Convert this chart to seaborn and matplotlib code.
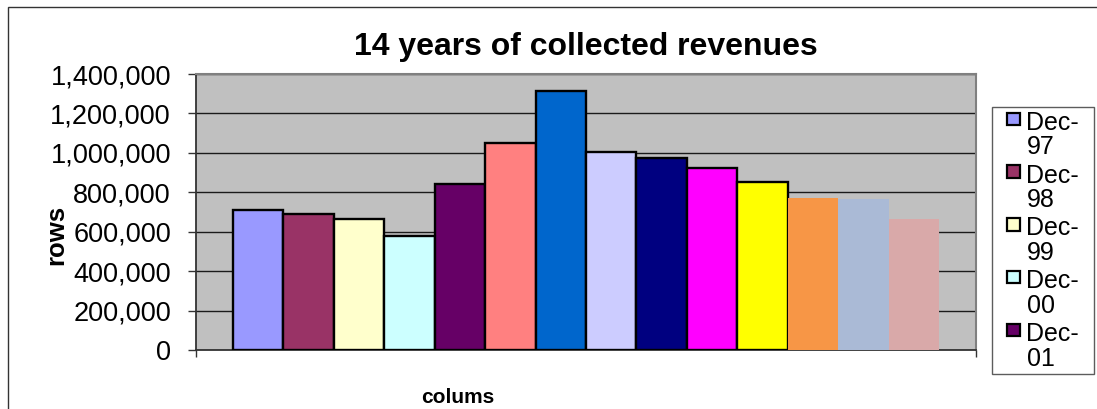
import matplotlib
matplotlib.use("Agg")
import matplotlib.pyplot as plt
import seaborn as sns
import pandas as pd
from matplotlib.ticker import FuncFormatter
from matplotlib.patches import Rectangle, Patch
from matplotlib.legend_handler import HandlerPatch

months = ["Dec-97", "Dec-98", "Dec-99", "Dec-00", "Dec-01", "Dec-02", "Dec-03",
          "Dec-04", "Dec-05", "Dec-06", "Dec-07", "Dec-08", "Dec-09", "Dec-10"]
revenues = [710000, 690000, 665000, 577000, 840000, 1050000, 1315000,
            1004000, 972000, 923000, 850000, 771000, 766000, 665000]
colors = ["#9999FF", "#993366", "#FFFFCC", "#CCFFFF", "#660066", "#FF8080", "#0066CC",
          "#CCCCFF", "#000080", "#FF00FF", "#FFFF00", "#F79646", "#AABAD6", "#D9A9A9"]
outlined = [True] * 11 + [False] * 3
legend_shown = 5

title = "14 years of collected revenues"
ylabel = "rows"
xlabel = "colums"
yticks = [0, 200000, 400000, 600000, 800000, 1000000, 1200000, 1400000]

sns.set_theme(style="white")
plt.rcParams["font.family"] = ["Liberation Sans", "DejaVu Sans"]
plt.rcParams["text.color"] = "black"
plt.rcParams["axes.labelcolor"] = "black"
plt.rcParams["ytick.color"] = "black"
plt.rcParams["xtick.color"] = "black"

W, H = 1097, 409
fig = plt.figure(figsize=(W / 100, H / 100), dpi=100)
fig.patch.set_facecolor("white")
ax = fig.add_axes([196 / W, 1 - 350 / H, (976 - 196) / W, (350 - 74) / H])
ax.set_facecolor("#C0C0C0")

df = pd.DataFrame({"month": months, "revenue": revenues})
sns.barplot(data=df, x="month", y="revenue", hue="month", palette=colors,
            order=months, hue_order=months, width=1.0, legend=False,
            saturation=1, edgecolor="black", linewidth=1.7, ax=ax, zorder=3)

bars = sorted(ax.patches, key=lambda p: p.get_x())
for b, o in zip(bars, outlined):
    if not o:
        b.set_edgecolor("none")
        b.set_linewidth(0)

ax.set_ylim(0, 1400000)
ax.set_yticks(yticks)
ax.yaxis.set_major_formatter(FuncFormatter(lambda v, p: f"{int(v):,}"))
ax.set_xlim(-0.5 - 0.73, len(months) - 0.5 + 0.73)
ax.set_xticks([-0.5 - 0.73, len(months) - 0.5 + 0.73])
ax.set_xticklabels(["", ""])
ax.set_xlabel("")
ax.set_ylabel("")
ax.yaxis.grid(True, color="#1a1a1a", linewidth=1.0, zorder=1)
ax.set_axisbelow(True)
ax.tick_params(axis="y", direction="out", length=6, width=1, color="#333333",
               pad=12, labelsize=19.5, left=True, labelcolor="black")
ax.tick_params(axis="x", direction="out", length=5, width=1, color="#333333", bottom=True)
for s in ["top", "right"]:
    ax.spines[s].set_color("#808080")
    ax.spines[s].set_linewidth(1.5)
for s in ["left", "bottom"]:
    ax.spines[s].set_color("#333333")
    ax.spines[s].set_linewidth(1.3)

fig.text(586 / W, 1 - 55 / H, title, ha="center", va="baseline",
         fontsize=23, fontweight="bold", color="black")
fig.text(56 / W, 1 - 235 / H, ylabel, rotation=90, ha="center", va="center",
         fontsize=18.5, fontweight="bold", color="black")
fig.text(458 / W, 1 - 403 / H, xlabel, ha="center", va="baseline",
         fontsize=15, fontweight="bold", color="black")

# chart area border
fig.patches.append(Rectangle((8 / W, -0.1), 1.2, 1 - 7 / H + 0.1, transform=fig.transFigure,
                             fill=False, edgecolor="#333333", linewidth=1.0))


def make_square(legend, orig_handle, xdescent, ydescent, width, height, fontsize):
    s = 0.5 * fontsize
    return Rectangle((width - s, height + 0.33 * fontsize - s / 2), s, s)


handles = [Patch(facecolor=colors[i], edgecolor="black", linewidth=1.6)
           for i in range(legend_shown)]
labels = [m.replace("-", "-\n") for m in months[:legend_shown]]
leg = fig.legend(handles, labels, loc="upper left",
                 bbox_to_anchor=(992 / W, 1 - 378 / H, 102 / W, 271 / H),
                 bbox_transform=fig.transFigure, mode="expand",
                 fontsize=18, frameon=True, fancybox=False, edgecolor="#333333",
                 handlelength=0.95, handletextpad=0.28, labelspacing=0.17,
                 borderpad=0.15, borderaxespad=0,
                 handler_map={Patch: HandlerPatch(patch_func=make_square)})
leg.get_frame().set_linewidth(1.0)
for t in leg.get_texts():
    t.set_linespacing(1.03)
    t.set_color("black")

fig.savefig("out.png", dpi=100, facecolor="white")
